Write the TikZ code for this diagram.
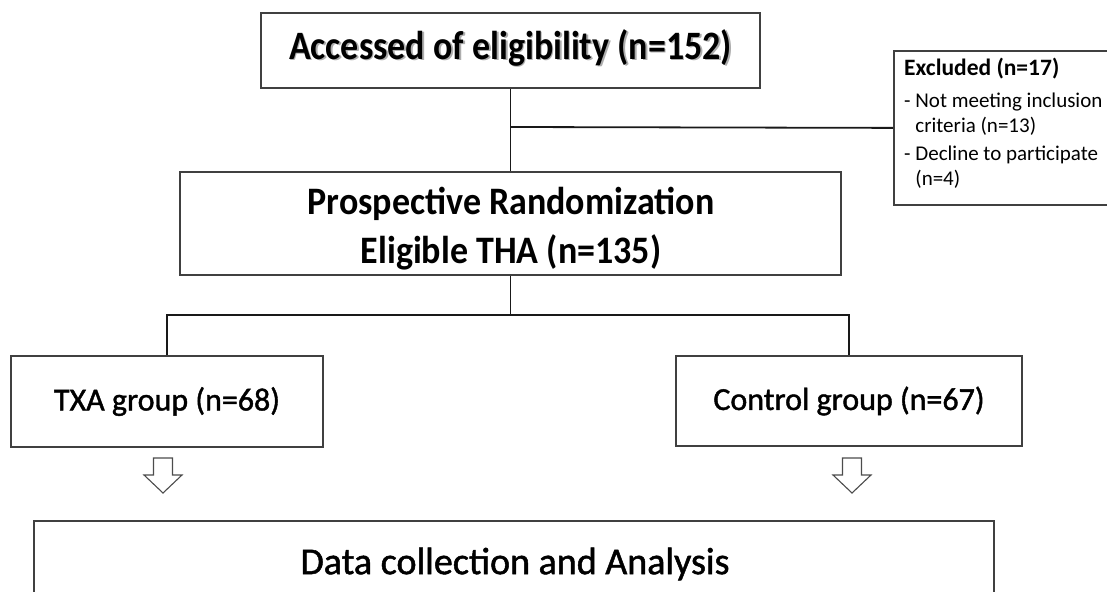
\documentclass[tikz,border=0pt]{standalone}
\usepackage{fontspec}
\setmainfont{Carlito}
\newfontfamily\medfont[BoldFont=Carlito, BoldFeatures={FakeBold=1.3}]{Carlito}
\begin{document}
\begin{tikzpicture}[x=1pt,y=-1pt,
  box/.style={draw=black!75, line width=1.8pt, fill=white, inner sep=0pt},
  conn/.style={draw=black!90, line width=1.8pt},
  blockarrow/.style={draw=black!70, line width=1.1pt, fill=white, line join=miter},
  bigbold/.style={font=\fontsize{36}{49}\selectfont\bfseries, inner sep=0pt, align=center},
  midtext/.style={font=\fontsize{32}{38}\selectfont\medfont\bfseries},
  bottomtext/.style={font=\fontsize{38}{44}\selectfont\medfont\bfseries, inner sep=0pt}
]
\useasboundingbox (0,0) rectangle (1107,591);

% top box with shadowed text
\node[box, minimum width=499pt, minimum height=75pt] (top) at (510.5,50.5) {};
\node[bigbold, text=black!40, opacity=0.8] (topshadow) at (512.3,49.3) {\scalebox{1}[1.12]{Accessed of eligibility (n=152)}};
\node[bigbold] (toptxt) at (510.5,47.5) {\scalebox{1}[1.12]{Accessed of eligibility (n=152)}};

% randomization box
\node[box, minimum width=661pt, minimum height=103pt] (rand) at (510.5,223.5) {};
\node[bigbold] (randtxt) at (511,229) {\scalebox{1}[1.08]{Prospective Randomization}\\\scalebox{1}[1.08]{Eligible THA (n=135)}};

% excluded box
\node[box, anchor=north west, minimum width=240pt, minimum height=154pt] (excl) at (893,50) {};
\node[anchor=north west, inner sep=0pt, align=left, font=\fontsize{21}{25}\selectfont] (excltxt) at (904,58)
  {{\bfseries\fontsize{23.5}{25}\selectfont Excluded (n=17)}\\[7pt]
   -\ Not meeting inclusion\\
   \phantom{-\ }criteria (n=13)\\[3pt]
   -\ Decline to participate\\
   \phantom{-\ }(n=4)};

\draw[conn] (top.south) -- (rand.north);
\coordinate (j1) at (510.5,127);
\draw[conn] (j1) -- (excl.west);

% groups
\node[box, midtext, minimum width=312pt, minimum height=91pt] (txa) at (167,401.5) {TXA group (n=68)};
\node[box, midtext, minimum width=346pt, minimum height=90pt] (ctrl) at (849,401) {Control group (n=67)};
\coordinate (j2) at (510.5,315);
\draw[conn] (rand.south) -- (j2);
\draw[conn] (txa.north) |- (j2) -| (ctrl.north);

% block arrows
\coordinate (a1) at (163,458);
\coordinate (a2) at (852,458);
\foreach \c in {a1,a2}{
  \draw[blockarrow] (\c) ++(-9.5,0) -- ++(19,0) -- ++(0,17) -- ++(9.5,0) -- ++(-19,18) -- ++(-19,-18) -- ++(9.5,0) -- cycle;
}

% bottom box
\node[box, minimum width=960pt, minimum height=80pt] (data) at (514,561) {};
\node[bottomtext] (datatxt) at (515,564) {Data collection and Analysis};
\end{tikzpicture}
\end{document}
